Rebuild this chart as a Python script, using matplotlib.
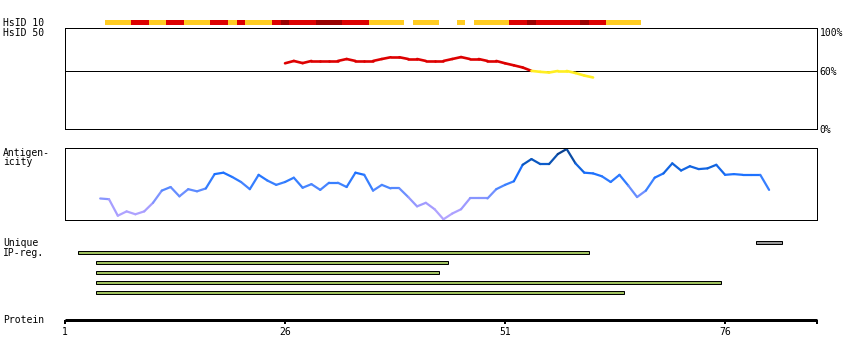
import numpy as np
import matplotlib
matplotlib.use("Agg")
import matplotlib.pyplot as plt
from matplotlib.collections import LineCollection
from matplotlib.colors import LinearSegmentedColormap

# ---------------- data ----------------
protein_length = 86
protein_ticks = [1, 26, 51, 76]

# HsID 10 coverage segments (residue boundaries) and level
hsid10_start = [5.5, 8.5, 10.5, 12.5, 14.5, 17.5, 19.5, 20.5, 21.5, 24.5, 25.5, 26.5,
                29.5, 32.5, 35.5, 40.5, 45.5, 47.5, 51.5, 53.5, 54.5, 59.5, 60.5, 62.5]
hsid10_end = [8.5, 10.5, 12.5, 14.5, 17.5, 19.5, 20.5, 21.5, 24.5, 25.5, 26.5, 29.5,
              32.5, 35.5, 39.5, 43.5, 46.5, 51.5, 53.5, 54.5, 59.5, 60.5, 62.5, 66.5]
hsid10_level = ["low", "mid", "low", "mid", "low", "mid", "low", "mid", "low", "mid", "high", "mid",
                "high", "mid", "low", "low", "low", "low", "mid", "high", "mid", "high", "mid", "low"]

# HsID 50 identity (%) per residue
identity_pos = list(range(26, 62))
identity_pct = [67.6, 70.0, 67.8, 70.0, 70.0, 70.0, 70.0, 72.0, 70.0, 70.0, 70.0, 72.0,
                73.8, 73.8, 72.0, 72.0, 70.0, 70.0, 70.0, 72.0, 74.0, 72.0, 72.0, 70.0,
                70.0, 67.6, 65.5, 63.3, 59.8, 58.8, 58.1, 59.7, 59.7, 57.6, 55.0, 53.0]
identity_threshold = 60

# Antigenicity score per residue
antigen_pos = list(range(5, 82))
antigen_val = [0.30, 0.29, 0.06, 0.12, 0.08, 0.12, 0.24, 0.41, 0.46, 0.33, 0.43, 0.40,
               0.44, 0.64, 0.66, 0.60, 0.53, 0.43, 0.63, 0.55, 0.49, 0.53, 0.59, 0.45,
               0.50, 0.42, 0.52, 0.52, 0.46, 0.66, 0.63, 0.41, 0.49, 0.44, 0.44, 0.32,
               0.19, 0.24, 0.15, 0.01, 0.09, 0.15, 0.30, 0.30, 0.30, 0.43, 0.49, 0.54,
               0.77, 0.85, 0.78, 0.78, 0.92, 0.99, 0.79, 0.66, 0.65, 0.61, 0.53, 0.63,
               0.48, 0.32, 0.41, 0.59, 0.65, 0.79, 0.69, 0.75, 0.71, 0.72, 0.77, 0.63,
               0.64, 0.63, 0.63, 0.63, 0.42]

# Unique / IP-regions (row 0 = unique region, rows 1.. = PrEST regions)
ip_row = [0, 1, 2, 3, 4, 5]
ip_start = [79.5, 2.5, 4.5, 4.5, 4.5, 4.5]
ip_end = [82.5, 60.5, 44.5, 43.5, 75.5, 64.5]
ip_kind = ["unique", "ip", "ip", "ip", "ip", "ip"]

# ---------------- styling ----------------
W, H = 850, 360
FONT = dict(family="DejaVu Sans Mono", fontsize=7, color="black")
level_colors = {"low": "#ffcc22", "mid": "#dd0000", "high": "#990000"}
ip_colors = {"unique": "#999999", "ip": "#9fc160"}
ant_cmap = LinearSegmentedColormap.from_list(
    "ant", [(0.0, "#b8a8ff"), (0.2, "#a49cff"), (0.35, "#7892ff"), (0.5, "#3c82ff"),
            (0.65, "#1a70ff"), (0.8, "#0b5ac4"), (1.0, "#0a3a80")])
PX = 72 / 100.0  # points per pixel

fig = plt.figure(figsize=(W / 100, H / 100), dpi=100)


def box(x0, y0, x1, y1):
    return [x0 / W, 1 - y1 / H, (x1 - x0) / W, (y1 - y0) / H]


X0, X1 = 65, 817.5
XLIM = (1, protein_length + 0.5)


def clean(ax):
    ax.set_xlim(*XLIM)
    ax.set_xticks([])
    ax.set_yticks([])
    for s in ax.spines.values():
        s.set_linewidth(1 * PX)
        s.set_color("black")


# HsID 10 bar
ax10 = fig.add_axes(box(X0, 20, X1, 25))
clean(ax10)
ax10.axis("off")
ax10.set_ylim(0, 1)
ax10.broken_barh([(s, e - s) for s, e in zip(hsid10_start, hsid10_end)], (0, 1),
                 facecolors=[level_colors[l] for l in hsid10_level], linewidth=0)

# HsID 50 panel
ax50 = fig.add_axes(box(X0, 28.3, X1, 129))
clean(ax50)
ax50.set_ylim(0, 103.6)
ax50.axhline(identity_threshold, color="black", lw=1 * PX)
pts = np.column_stack([identity_pos, identity_pct])
segs = np.stack([pts[:-1], pts[1:]], axis=1)
seg_cols = ["#dd0000" if v >= identity_threshold else "#ffee22" for v in identity_pct[:-1]]
ax50.add_collection(LineCollection(segs, colors=seg_cols, linewidths=1.9, capstyle="round"))
ax50.yaxis.tick_right()
ax50.set_yticks([0, 60, 100])
ax50.set_yticklabels(["0%", "60%", "100%"], **FONT)
ax50.tick_params(axis="y", length=0, pad=1.5)

# Antigenicity panel
axa = fig.add_axes(box(X0, 148.3, X1, 220))
clean(axa)
axa.set_ylim(0, 1)
apts = np.column_stack([antigen_pos, antigen_val])
asegs = np.stack([apts[:-1], apts[1:]], axis=1)
aval = [(a + b) / 2 for a, b in zip(antigen_val[:-1], antigen_val[1:])]
axa.add_collection(LineCollection(asegs, colors=[ant_cmap(v) for v in aval],
                                  linewidths=1.6, capstyle="round"))

# Unique / IP regions
axi = fig.add_axes(box(X0, 238, X1, 297))
clean(axi)
axi.axis("off")
axi.set_ylim(5.47, -0.43)
axi.barh(ip_row, [e - s for s, e in zip(ip_start, ip_end)], left=ip_start, height=0.3,
         color=[ip_colors[k] for k in ip_kind], edgecolor="black", linewidth=1 * PX)

# Protein axis
axp = fig.add_axes(box(X0, 300, X1, 319.8))
axp.set_xlim(*XLIM)
axp.set_yticks([])
for name, s in axp.spines.items():
    s.set_visible(name == "bottom")
axp.spines["bottom"].set_linewidth(3 * PX)
axp.spines["bottom"].set_capstyle("butt")
axp.set_xticks(protein_ticks + [XLIM[1]])
axp.set_xticklabels([str(t) for t in protein_ticks] + [""], **FONT)
axp.tick_params(axis="x", direction="out", length=3.5 * PX, width=2 * PX, pad=2.5)
axp.patch.set_alpha(0)

# Left labels
labels = [("HsID 10", 22.7), ("HsID 50", 32.7), ("Antigen-", 152.5), ("icity", 162.5),
          ("Unique", 242.5), ("IP-reg.", 252.5), ("Protein", 320)]
for txt, y in labels:
    fig.text(3 / W, 1 - y / H, txt, ha="left", va="center", **FONT)

fig.savefig("out.png", dpi=100, facecolor="white")
